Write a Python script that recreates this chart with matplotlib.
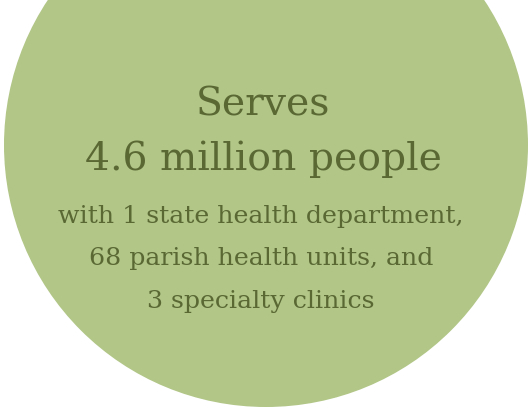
import matplotlib.pyplot as plt
from matplotlib.patches import Circle

# text content
headline = ["Serves", "4.6 million people"]
details = ["with 1 state health department,",
           "68 parish health units, and",
           "3 specialty clinics"]

circle_color = '#b1c687'
text_color = '#5a6834'

fig = plt.figure(figsize=(5.29, 4.10), dpi=100)
ax = fig.add_axes([0, 0, 1, 1])
ax.set_xlim(0, 529)
ax.set_ylim(410, 0)
ax.set_aspect('equal')
ax.axis('off')

# big circle, cut off at the top
ax.add_patch(Circle((266, 146), 262, color=circle_color, lw=0))

# headline lines
for i, line in enumerate(headline):
    ax.text(263, 116 + i * 54, line, ha='center', va='baseline',
            fontsize=28.3, color=text_color, family='DejaVu Serif')

# detail lines
for i, line in enumerate(details):
    ax.text(261, 223 + i * 42.5, line, ha='center', va='baseline',
            fontsize=18.2, color=text_color, family='DejaVu Serif')

fig.savefig('out.png', dpi=100)
